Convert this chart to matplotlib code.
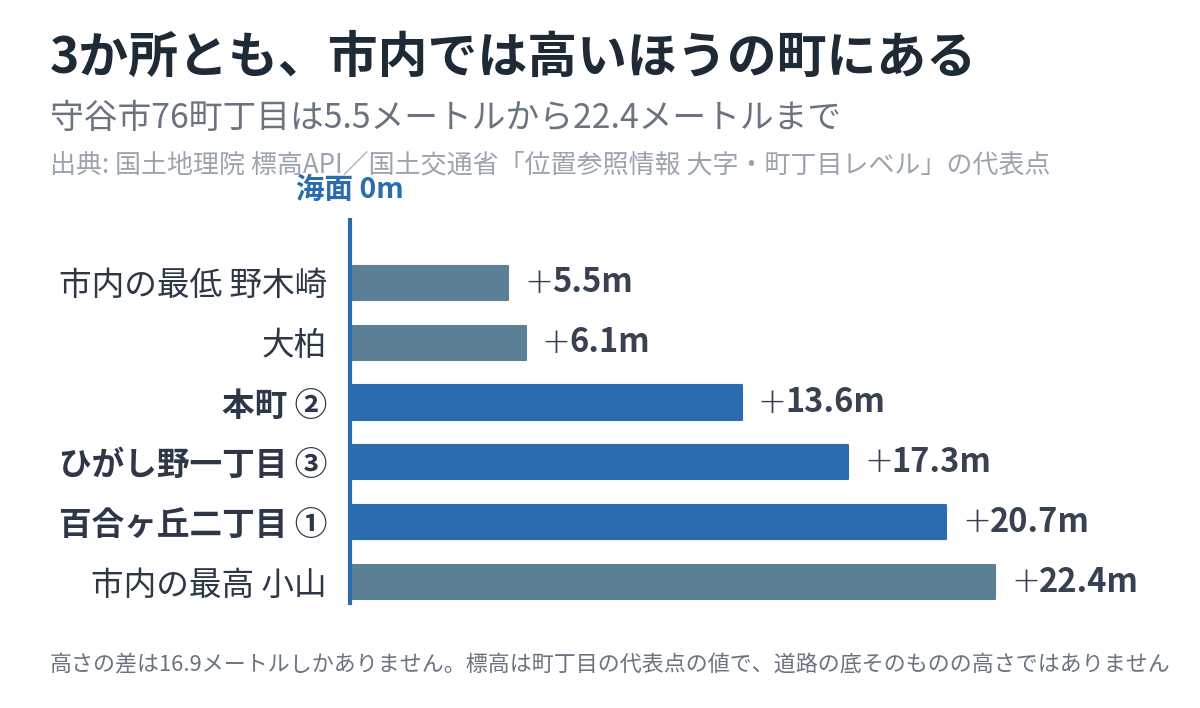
import matplotlib.pyplot as plt

plt.rcParams['font.family'] = ['Noto Sans CJK JP', 'DejaVu Sans']

# data
names = ['市内の最低 野木崎', '大柏', '本町 ②', 'ひがし野一丁目 ③', '百合ヶ丘二丁目 ①', '市内の最高 小山']
heights = [5.5, 6.1, 13.6, 17.3, 20.7, 22.4]
picked = [False, False, True, True, True, False]

blue = '#2b6cb0'
grey = '#5b7f95'

fig = plt.figure(figsize=(12, 7.08), dpi=100)
ax = fig.add_axes([350 / 1200, 1 - 603 / 708, 850 / 1200, 383 / 708])

cols = [blue if p else grey for p in picked]
ypos = list(range(len(names)))
ax.barh(ypos, heights, height=0.57, color=cols, edgecolor=cols,
        linewidth=1.5, joinstyle='round')

# value labels: thin plus, bold number
for y, h in zip(ypos, heights):
    plus = ax.text(h + 0.55, y, '+', va='center', ha='left', family='DejaVu Sans',
                   fontsize=25, fontweight='light', color='#374151')
    ax.annotate('%.1fm' % h, xy=(1, 0.5), xycoords=plus, va='center', ha='left',
                xytext=(-1, 0), textcoords='offset points',
                fontsize=23.5, fontweight='bold', color='#374151')

ax.set_xlim(0, 850 / 28.8)
ax.set_ylim(5.35, -1.05)
ax.set_yticks(ypos)
ax.set_yticklabels(names, fontsize=23.5, color='#2d3748')
for lab, p in zip(ax.get_yticklabels(), picked):
    if p:
        lab.set_fontweight('bold')
ax.tick_params(axis='y', length=0, pad=16.5)
ax.set_xticks([])
for s in ['top', 'right', 'bottom']:
    ax.spines[s].set_visible(False)
ax.spines['left'].set_color(blue)
ax.spines['left'].set_linewidth(3)

fig.text(50 / 1200, 1 - 58 / 708, '3か所とも、市内では高いほうの町にある',
         fontsize=35.9, fontweight='bold', color='#1f2a37', va='center')
fig.text(50 / 1200, 1 - 118 / 708, '守谷市76町丁目は5.5メートルから22.4メートルまで',
         fontsize=24.3, color='#6b7280', va='center')
fig.text(50 / 1200, 1 - 165 / 708,
         '出典: 国土地理院 標高API／国土交通省「位置参照情報 大字・町丁目レベル」の代表点',
         fontsize=18.7, color='#9ca3af', va='center')
fig.text(350 / 1200, 1 - 190 / 708, '海面 0m', fontsize=20.5, fontweight='bold',
         color=blue, ha='center', va='center')
fig.text(50 / 1200, 1 - 665 / 708,
         '高さの差は16.9メートルしかありません。標高は町丁目の代表点の値で、道路の底そのものの高さではありません',
         fontsize=15.8, color='#6b7280', va='center')

fig.savefig('out.png', dpi=100)
